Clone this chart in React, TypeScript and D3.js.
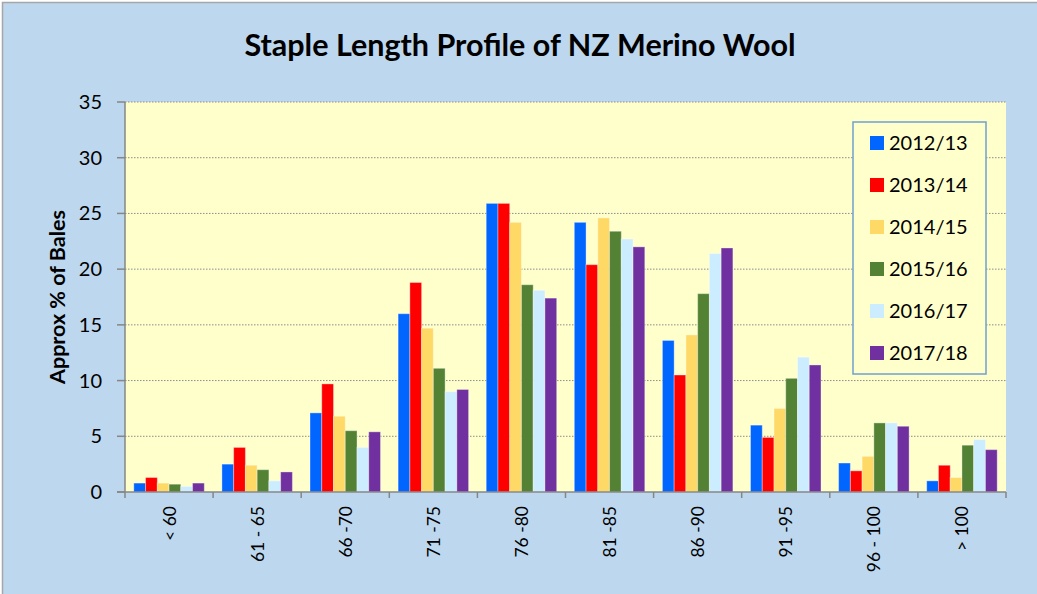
import React from "react";
import * as d3 from "d3";

const categories = ["< 60", "61 - 65", "66 -70", "71 -75", "76 -80", "81 -85", "86 -90", "91 -95", "96 - 100", "> 100"];
const seriesNames = ["2012/13", "2013/14", "2014/15", "2015/16", "2016/17", "2017/18"];
const seriesColors = ["#0066FF", "#FF0000", "#FFD966", "#548235", "#CCECFF", "#7030A0"];
const s2012 = [0.8, 2.5, 7.1, 16.0, 25.9, 24.2, 13.6, 6.0, 2.6, 1.0];
const s2013 = [1.3, 4.0, 9.7, 18.8, 25.9, 20.4, 10.5, 4.9, 1.9, 2.4];
const s2014 = [0.8, 2.4, 6.8, 14.7, 24.2, 24.6, 14.1, 7.5, 3.2, 1.3];
const s2015 = [0.7, 2.0, 5.5, 11.1, 18.6, 23.4, 17.8, 10.2, 6.2, 4.2];
const s2016 = [0.5, 1.0, 4.0, 9.0, 18.1, 22.7, 21.4, 12.1, 6.2, 4.7];
const s2017 = [0.8, 1.8, 5.4, 9.2, 17.4, 22.0, 21.9, 11.4, 5.9, 3.8];
const seriesValues = [s2012, s2013, s2014, s2015, s2016, s2017];
const yTicks = [0, 5, 10, 15, 20, 25, 30, 35];

const W = 1037, H = 594;
const plot = { left: 125, right: 1006, top: 102, bottom: 492 };
const FONT = "Lato, 'Open Sans', sans-serif";

export default function App() {
  const x = d3.scaleBand<string>().domain(categories).range([plot.left, plot.right]).padding(0);
  const bw = x.bandwidth();
  const gap = bw * 0.1;
  const xs = d3.scaleBand<string>().domain(seriesNames).range([gap, bw - gap]).padding(0);
  const y = d3.scaleLinear().domain([0, 35]).range([plot.bottom, plot.top]);

  return (
    <svg width={W} height={H} style={{ position: "absolute", left: 0, top: 0 }} fontFamily={FONT}>
      <rect x={0} y={0} width={W} height={H} fill="#FFFFFF" />
      <rect x={2.5} y={2.5} width={W + 10} height={H + 10} fill="#BDD7EE" stroke="#A6A6A6" strokeWidth={1.5} />
      <text x={520} y={56} textAnchor="middle" fontSize={30.5} fontWeight="bold" fill="#000">
        Staple Length Profile of NZ Merino Wool
      </text>
      <rect x={plot.left} y={plot.top} width={plot.right - plot.left} height={plot.bottom - plot.top} fill="#FFFFCC" />
      {yTicks.filter((t) => t > 0).map((t) => (
        <line key={"g" + t} x1={plot.left} x2={plot.right} y1={y(t)} y2={y(t)} stroke="#8C8C8C" strokeWidth={1} strokeDasharray="1.5,1.5" />
      ))}
      {seriesValues.map((vals, si) =>
        categories.map((c, ci) => {
          const bx = (x(c) as number) + (xs(seriesNames[si]) as number);
          const v = vals[ci];
          return (
            <rect key={si + "-" + ci} x={bx} y={y(v)} width={xs.bandwidth()} height={plot.bottom - y(v)}
              fill={seriesColors[si]} stroke="rgba(255,255,255,0.35)" strokeWidth={1} />
          );
        })
      )}
      <line x1={plot.left} x2={plot.left} y1={plot.top} y2={plot.bottom} stroke="#868686" strokeWidth={1.5} />
      <line x1={plot.left - 8} x2={plot.right} y1={plot.bottom} y2={plot.bottom} stroke="#868686" strokeWidth={1.5} />
      {yTicks.map((t) => (
        <g key={"t" + t}>
          <line x1={plot.left - 8} x2={plot.left} y1={y(t)} y2={y(t)} stroke="#868686" strokeWidth={1.5} />
          <text x={102} y={y(t)} dy="0.35em" textAnchor="end" fontSize={20} fill="#000">{t}</text>
        </g>
      ))}
      {categories.concat(["__end"]).map((c, i) => {
        const xx = plot.left + i * bw;
        return <line key={"xt" + i} x1={xx} x2={xx} y1={plot.bottom} y2={plot.bottom + 6} stroke="#868686" strokeWidth={1.5} />;
      })}
      {categories.map((c) => {
        const cx = (x(c) as number) + bw / 2;
        return (
          <text key={"xl" + c} transform={`translate(${cx + 6.5},506) rotate(-90)`} textAnchor="end" fontSize={17.5} fill="#000">
            {c}
          </text>
        );
      })}
      <text transform="translate(65,297) rotate(-90)" textAnchor="middle" fontSize={21.5} fontWeight="bold" fill="#000">
        Approx % of Bales
      </text>
      <rect x={853} y={122} width={133} height={252} fill="#FFFFCC" stroke="#6FA0D0" strokeWidth={1.5} />
      {seriesNames.map((n, i) => {
        const cy = 143 + i * 42;
        return (
          <g key={"lg" + n}>
            <rect x={870} y={cy - 7} width={14} height={14} fill={seriesColors[i]} />
            <text x={889} y={cy} dy="0.36em" fontSize={20} fill="#000">{n}</text>
          </g>
        );
      })}
    </svg>
  );
}
